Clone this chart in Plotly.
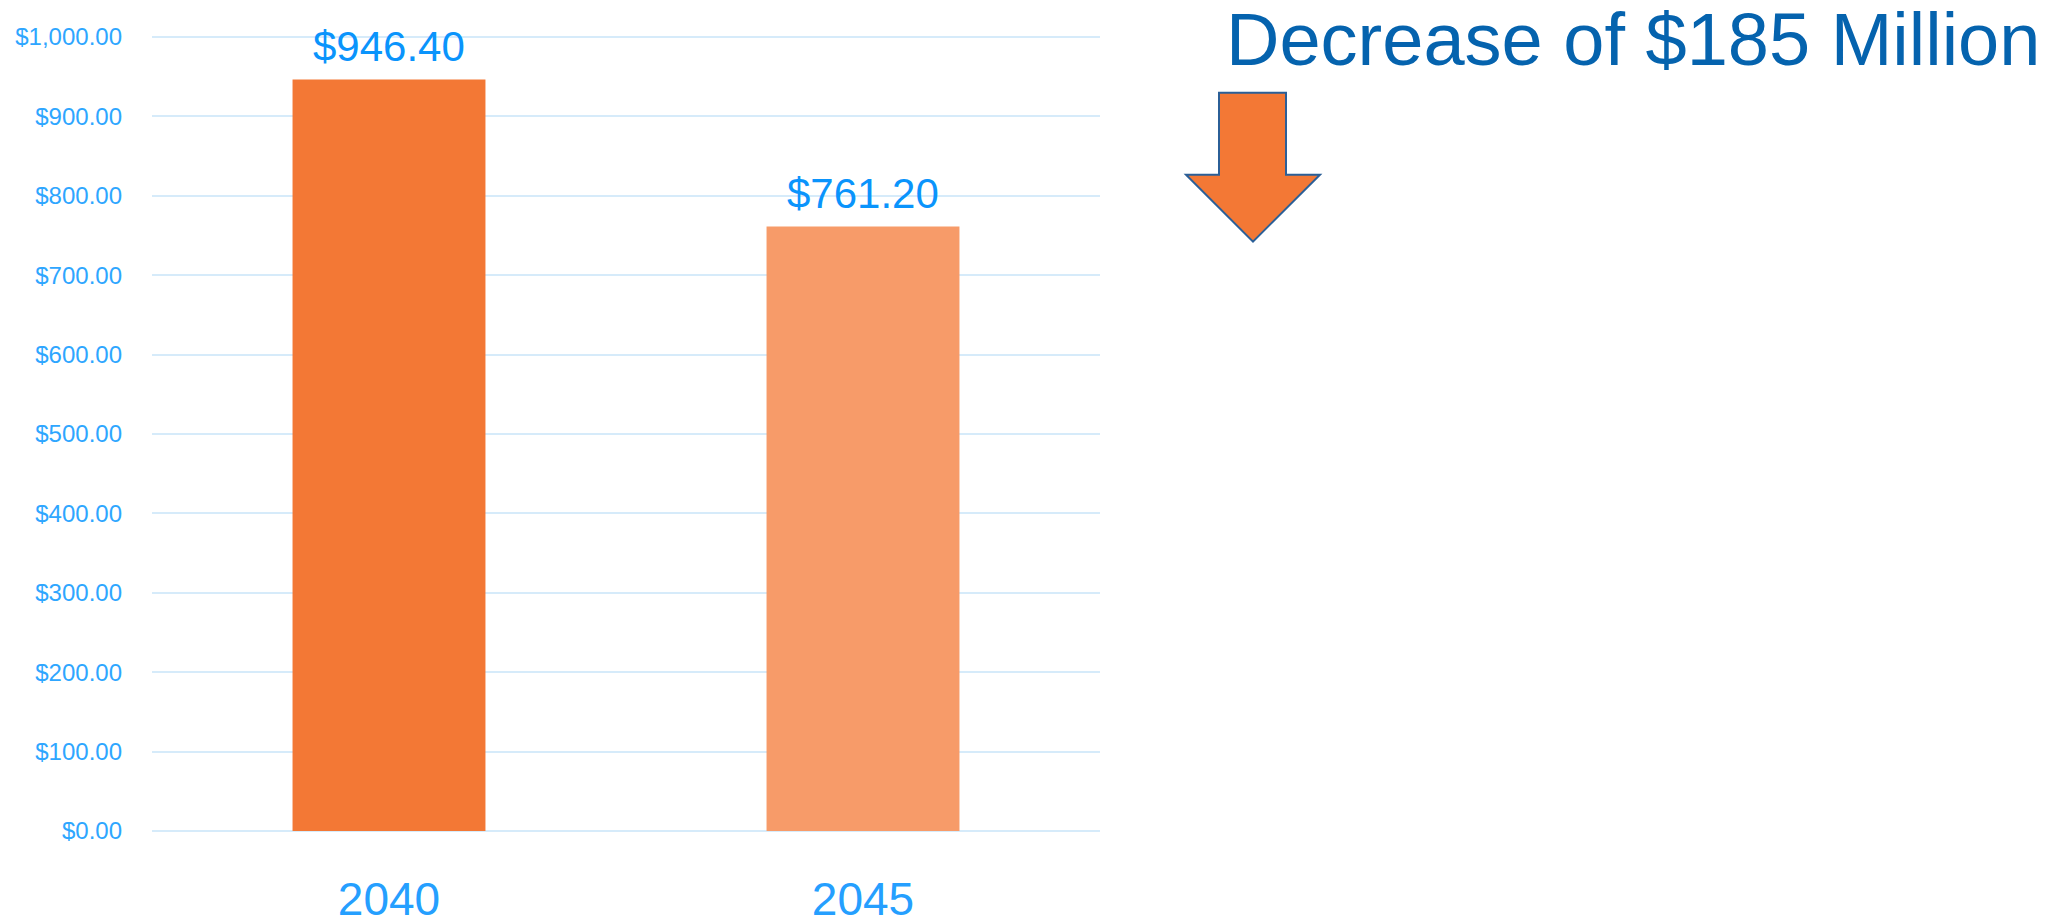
import plotly.graph_objects as go

categories = ["2040", "2045"]
values = [946.40, 761.20]
bar_colors = ["#F37835", "#F79B69"]
y_ticks = [0, 100, 200, 300, 400, 500, 600, 700, 800, 900, 1000]
headline = "Decrease of $185 Million"

OFF = 8  # page body margin
W, H = 2067 - OFF, 921 - OFF
Y_TOP = 1010
PX_PER_UNIT = (831.3 - 37.3) / 1000
L, R = 152 - OFF, 967
B = H - (831.3 - OFF)
T = H - B - PX_PER_UNIT * Y_TOP
FONT = "Liberation Sans, Arial, sans-serif"

def px_x(px):
    return (px - OFF - L) / (W - L - R)

def px_y(py):
    return (H - B - (py - OFF)) / (H - T - B)

fig = go.Figure()
fig.add_trace(go.Bar(
    x=categories, y=values,
    marker=dict(color=bar_colors, line=dict(width=0)),
    width=0.407,
    hoverinfo="skip",
))

annotations = []
for i, v in enumerate(values):
    annotations.append(dict(
        x=i, y=v, xref="x", yref="y", text=f"${v:,.2f}",
        showarrow=False, yanchor="bottom", yshift=8,
        font=dict(family=FONT, size=42, color="#0A94FC"),
    ))

annotations.append(dict(
    x=px_x(1224), y=px_y(40), xref="paper", yref="paper",
    text=headline, showarrow=False, xanchor="left", yanchor="middle",
    font=dict(family=FONT, size=74, color="#0563AE"),
))

arrow_pts = [(1219, 93), (1286, 93), (1286, 175), (1320, 175), (1253, 242), (1186, 175), (1219, 175)]
path = "M " + " L ".join(f"{px_x(a):.5f},{px_y(b):.5f}" for a, b in arrow_pts) + " Z"

fig.update_layout(
    width=W, height=H,
    margin=dict(l=L, r=R, t=T, b=B, autoexpand=False),
    paper_bgcolor="white", plot_bgcolor="white",
    showlegend=False,
    annotations=annotations,
    shapes=[dict(type="path", path=path, xref="paper", yref="paper",
                 fillcolor="#F37835", line=dict(color="#2B5F97", width=2), layer="above")],
    xaxis=dict(
        type="category", range=[-0.5, 1.5],
        showgrid=False, zeroline=False, showline=False, ticks="",
        tickfont=dict(family=FONT, size=46, color="#259FFF"),
        ticklabelstandoff=37,
    ),
    yaxis=dict(
        range=[0, Y_TOP], tickvals=y_ticks, tickformat="$,.2f",
        showgrid=True, gridcolor="#D6EBFA", gridwidth=1.5,
        zeroline=True, zerolinecolor="#D6EBFA", zerolinewidth=1.5,
        showline=False, ticks="",
        tickfont=dict(family=FONT, size=24, color="#2EA6FF"),
        ticklabelstandoff=29,
    ),
)

fig.write_html("out.html")
